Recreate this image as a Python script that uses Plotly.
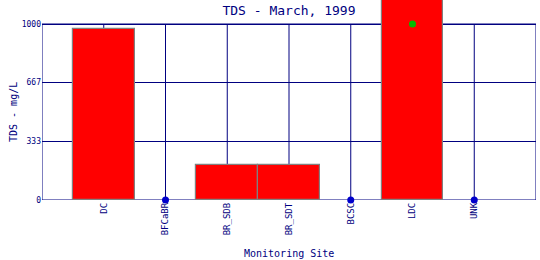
import plotly.graph_objects as go

sites = ["DC", "BFCaBR", "BR_SDB", "BR_SDT", "BCSC", "LDC", "UNK"]
tds_values = [970, None, 200, 200, None, 1300, None]
nodata_sites = ["BFCaBR", "BCSC", "UNK"]
nodata_values = [0, 0, 0]
standard_sites = ["LDC"]
standard_values = [1000]
y_ticks = [0, 333, 667, 1000]
y_tick_text = ["0", "333", "667", "1000"]

NAVY = "#000080"
X_MIN, X_MAX = -1, 7
Y_MAX_FRAME = 1000
Y_RANGE_TOP = 1136.4
PLOT_W = 540 - 42 - 4

fig = go.Figure()

fig.add_trace(go.Bar(
    x=sites, y=tds_values, width=1.0,
    marker=dict(color="#FF0000", line=dict(color="#808080", width=1.2)),
    showlegend=False, hoverinfo="x+y",
))
fig.add_trace(go.Scatter(
    x=nodata_sites, y=nodata_values, mode="markers",
    marker=dict(color="#0000CC", size=7), cliponaxis=False, showlegend=False,
))
fig.add_trace(go.Scatter(
    x=standard_sites, y=standard_values, mode="markers",
    marker=dict(color="#00BB00", size=7), cliponaxis=False, showlegend=False,
))

shapes = [dict(type="rect", xref="x", yref="y", x0=X_MIN, x1=X_MAX, y0=0, y1=Y_MAX_FRAME,
               line=dict(color=NAVY, width=1), layer="below")]
for s in sites:
    shapes.append(dict(type="line", xref="x", yref="y", x0=s, x1=s, y0=0, y1=Y_MAX_FRAME,
                       line=dict(color=NAVY, width=1), layer="below"))

fig.update_layout(
    width=540, height=260,
    margin=dict(l=42, r=4, t=0, b=60),
    paper_bgcolor="white", plot_bgcolor="white",
    font=dict(family="DejaVu Sans Mono", color=NAVY),
    title=dict(text="TDS - March, 1999", x=0.5, xref="paper", y=1 - 10 / 260,
               yref="container", yanchor="middle", xanchor="center",
               font=dict(size=13, color=NAVY, family="DejaVu Sans Mono")),
    bargap=0,
    shapes=shapes,
    xaxis=dict(type="category", categoryorder="array", categoryarray=sites,
               range=[X_MIN, X_MAX], showgrid=False, showline=False, zeroline=False,
               tickangle=-90, ticks="", tickfont=dict(size=9, color=NAVY, family="DejaVu Sans Mono")),
    yaxis=dict(range=[0, Y_RANGE_TOP], tickvals=y_ticks, ticktext=y_tick_text,
               showgrid=True, gridcolor=NAVY, gridwidth=1, zeroline=False, showline=False,
               ticks="", tickfont=dict(size=8, color=NAVY, family="DejaVu Sans Mono")),
    annotations=[
        dict(text="Monitoring Site", xref="paper", yref="paper", x=0.5, y=-(253 - 200) / 200,
             xanchor="center", yanchor="middle", showarrow=False,
             font=dict(size=10, color=NAVY, family="DejaVu Sans Mono")),
        dict(text="TDS - mg/L", xref="paper", yref="y", x=-(42 - 13) / PLOT_W, y=500,
             xanchor="center", yanchor="middle", textangle=-90, showarrow=False,
             font=dict(size=10, color=NAVY, family="DejaVu Sans Mono")),
    ],
)

fig.write_html("out.html")
